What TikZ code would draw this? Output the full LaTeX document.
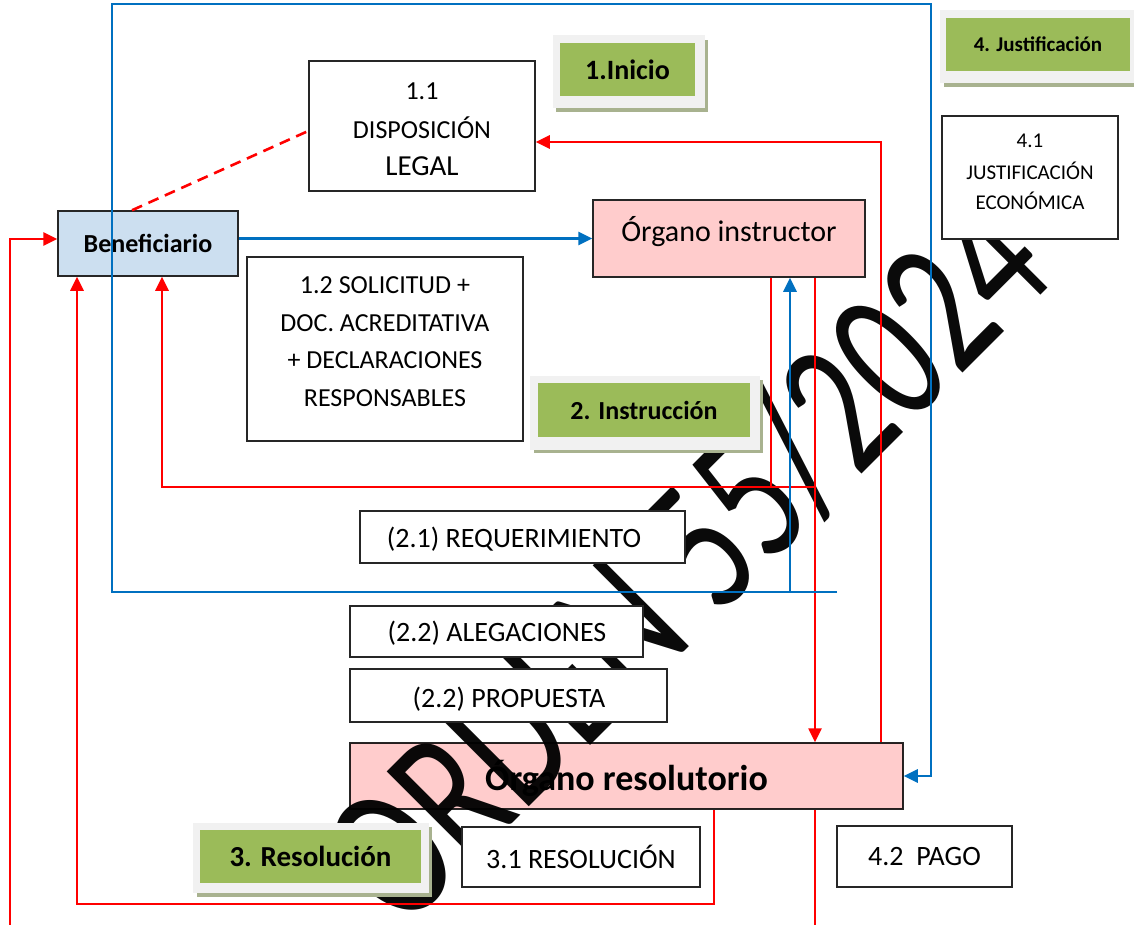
\documentclass[tikz,border=0pt]{standalone}
\usepackage{fontspec}
\setmainfont{Carlito}
\newfontfamily\wmfont{Carlito}
\usetikzlibrary{arrows.meta}
\definecolor{rojo}{RGB}{255,0,0}
\definecolor{azul}{RGB}{0,112,192}
\definecolor{verde}{RGB}{155,187,89}
\definecolor{rosa}{RGB}{255,204,204}
\definecolor{celeste}{RGB}{204,223,240}
\definecolor{marco}{RGB}{241,241,241}
\definecolor{sombra}{RGB}{168,178,143}
\definecolor{wmcol}{RGB}{10,10,10}
\tikzset{
  box/.style={draw=black!85, line width=1.5pt, fill=white, inner sep=0pt, rectangle},
  lbl/.style={inner sep=0pt, font=\fontsize{26}{26}\selectfont},
  lblb/.style={inner sep=0pt, font=\fontsize{28}{28}\selectfont},
  rl/.style={draw=rojo, line width=2.6pt},
  bl/.style={draw=azul, line width=2.8pt},
  arr/.style={-{Triangle[length=14pt,width=13pt]}},
  greenbox/.style={fill=verde, inner sep=0pt, font=\bfseries},
  framebox/.style={fill=marco, inner sep=0pt},
}
\begin{document}
\begin{tikzpicture}[x=1pt,y=-1pt]
\useasboundingbox (0,0) rectangle (1134,925);
% helper coordinates
\coordinate (x10) at (10,0);   \coordinate (x77) at (77,0);
\coordinate (x112) at (112,0); \coordinate (x132) at (132,0);
\coordinate (x162) at (162,0); \coordinate (x714) at (714,0);
\coordinate (x771) at (771,0); \coordinate (x790) at (790,0);
\coordinate (x815) at (815,0); \coordinate (x837) at (837,0);
\coordinate (x881) at (881,0); \coordinate (x931) at (931,0);
\coordinate (y4) at (0,4);     \coordinate (y131) at (0,131);
\coordinate (y142) at (0,142); \coordinate (y239) at (0,239);
\coordinate (y487) at (0,487); \coordinate (y592) at (0,592);
\coordinate (y904) at (0,904); \coordinate (y927) at (0,927);

% watermark (behind boxes)
\node[rotate=45, xscale=0.72, inner sep=0pt, text=wmcol,
      font=\wmfont\fontsize{195}{195}\selectfont] (wm) at (686,560) {ORDEN 55/2024};

% boxes
\node[box, minimum width=226pt, minimum height=130pt] (leg) at (422,126) {};
\node[lbl] (legA) at (422,91) {1.1};
\node[lbl] (legB) at (422,128) {DISPOSICIÓN};
\node[lbl, font=\fontsize{29}{29}\selectfont] (legC) at (422,166) {LEGAL};

\node[box, fill=celeste, minimum width=180pt, minimum height=65pt,
      font=\bfseries\fontsize{26}{26}\selectfont] (ben) at (148,243.5) {Beneficiario};

\node[box, fill=rosa, minimum width=272pt, minimum height=77pt] (ins) at (729,238.5) {};
\node[inner sep=0pt, font=\fontsize{30}{30}\selectfont] (insT) at (729,232) {Órgano instructor};

\node[box, minimum width=276pt, minimum height=184pt] (sol) at (385,349) {};
\node[lbl] (solA) at (385,285) {1.2 SOLICITUD +};
\node[lbl] (solB) at (385,323) {DOC. ACREDITATIVA};
\node[lbl] (solC) at (385,360) {+ DECLARACIONES};
\node[lbl] (solD) at (385,398) {RESPONSABLES};

\node[box, minimum width=176pt, minimum height=123pt] (jus) at (1030,177.5) {};
\node[lbl, font=\fontsize{21}{21}\selectfont] (jusA) at (1030,141) {4.1};
\node[lbl, font=\fontsize{21}{21}\selectfont] (jusB) at (1030,171) {JUSTIFICACIÓN};
\node[lbl, font=\fontsize{21}{21}\selectfont] (jusC) at (1030,201) {ECONÓMICA};

\node[box, minimum width=325pt, minimum height=52pt] (req) at (522.5,537) {};
\node[lblb] (reqT) at (514,539) {(2.1) REQUERIMIENTO};

\node[box, minimum width=293pt, minimum height=51pt] (ale) at (496.5,631.5) {};
\node[lblb] (aleT) at (497,633) {(2.2) ALEGACIONES};

\node[box, minimum width=317pt, minimum height=53pt] (pro) at (508.5,695.5) {};
\node[lblb] (proT) at (509,699) {(2.2) PROPUESTA};

\begin{scope}[blend mode=multiply]
\node[box, fill=rosa, minimum width=553pt, minimum height=66pt] (res) at (626.5,776) {};
\end{scope}
\node[inner sep=0pt, font=\bfseries\fontsize{36}{36}\selectfont] (resT) at (626.5,778) {Órgano resolutorio};

\node[box, minimum width=238pt, minimum height=60pt] (r31) at (581,857) {};
\node[lblb] (r31T) at (581,857) {3.1 RESOLUCIÓN};

\node[box, minimum width=175pt, minimum height=61pt] (pag) at (924.5,856.5) {};
\node[lblb] (pagT) at (924.5,857) {4.2\ \ PAGO};

% green phase labels
\fill[sombra] (556,40) rectangle (708,112);
\node[framebox, minimum width=152pt, minimum height=73pt] (iniF) at (628.5,72) {};
\node[greenbox, minimum width=135pt, minimum height=53pt, font=\bfseries\fontsize{28}{28}\selectfont] (ini) at (627.5,69.5) {1.Inicio};

\fill[sombra] (534,380) rectangle (763,453);
\node[framebox, minimum width=230pt, minimum height=74pt] (insF) at (645,413) {};
\node[greenbox, minimum width=212pt, minimum height=54pt, font=\bfseries\fontsize{26}{26}\selectfont] (insL) at (644,410) {2. Instrucción};

\fill[sombra] (197,827) rectangle (432,897);
\node[framebox, minimum width=236pt, minimum height=70pt] (resF) at (311,858) {};
\node[greenbox, minimum width=221pt, minimum height=53pt, font=\bfseries\fontsize{29}{29}\selectfont] (resL) at (310.5,856.5) {3. Resolución};

\fill[sombra] (944,14) rectangle (1137,87);
\node[framebox, minimum width=194pt, minimum height=73pt] (jusF) at (1037,46.5) {};
\node[greenbox, minimum width=184pt, minimum height=53pt, font=\bfseries\fontsize{21}{21}\selectfont] (jusL) at (1038,44.5) {4. Justificación};

% red connectors
\draw[rl, arr] (res.north -| x881) -- (x881 |- y142) -- (leg.east |- y142);
\draw[rl, dash pattern=on 11pt off 7pt] (ben.north -| x132) -- (leg.west |- y131);
\draw[rl] (ins.south -| x771) -- (x771 |- y487);
\draw[rl, arr] (ins.south -| x815) -- (res.north -| x815);
\draw[rl, arr] (x815 |- y487) -| (ben.south -| x162);
\draw[rl, arr] (res.south -| x714) |- (x77 |- y904) -- (ben.south -| x77);
\draw[rl, arr] (res.south -| x815) |- (x10 |- y927) |- (ben.west |- y239);

% blue connectors
\draw[bl, arr] (ben.east |- ins.west) -- (ins.west);
\draw[bl, arr, line join=miter] (x837 |- y592) -- (x112 |- y592) -- (x112 |- y4) -- (x931 |- y4) |- (res.east);
\draw[bl, arr] (x790 |- y592) -- (ins.south -| x790);
\end{tikzpicture}
\end{document}
